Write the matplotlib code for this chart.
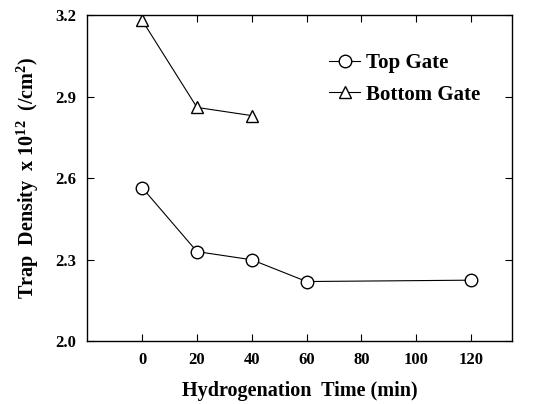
import matplotlib.pyplot as plt

# hydrogenation time (min) vs trap density (x1e12 /cm2)
top_time = [0, 20, 40, 60, 120]
top_density = [2.565, 2.33, 2.30, 2.22, 2.225]
bottom_time = [0, 20, 40]
bottom_density = [3.18, 2.86, 2.83]

plt.rcParams['font.family'] = ['Liberation Serif', 'DejaVu Serif']
plt.rcParams['font.weight'] = 'bold'
plt.rcParams['mathtext.fontset'] = 'custom'
plt.rcParams['mathtext.rm'] = 'Liberation Serif:bold'
plt.rcParams['mathtext.it'] = 'Liberation Serif:bold'

fig, ax = plt.subplots(figsize=(5.46, 4.04), dpi=100)
fig.subplots_adjust(left=0.16, right=0.938, top=0.963, bottom=0.155)

ax.plot(top_time, top_density, color='black', lw=0.8, marker='o', ms=9,
        mfc='white', mec='black', mew=1.0, label='Top Gate')
ax.plot(bottom_time, bottom_density, color='black', lw=0.8, marker='^', ms=9,
        mfc='white', mec='black', mew=1.0, label='Bottom Gate')

ax.set_xlim(-20, 135)
ax.set_ylim(2.0, 3.2)
ax.set_xticks([0, 20, 40, 60, 80, 100, 120])
ax.set_yticks([2.0, 2.3, 2.6, 2.9, 3.2])
ax.tick_params(direction='in', top=True, right=True, length=5, width=0.8,
               labelsize=12, pad=8)
for lab in ax.get_xticklabels() + ax.get_yticklabels():
    lab.set_fontweight('bold')
for s in ax.spines.values():
    s.set_linewidth(1.0)

ax.set_xlabel('Hydrogenation  Time (min)', fontsize=14.5, fontweight='bold', labelpad=9)
ax.set_ylabel(r'Trap  Density  x 10$^{12}$  (/cm$^{2}$)', fontsize=14.5,
              fontweight='bold', labelpad=10)

ax.legend(loc='upper right', bbox_to_anchor=(0.97, 0.94), frameon=False,
          handlelength=1.5, handletextpad=0.3, labelspacing=0.55,
          prop={'weight': 'bold', 'size': 15})

fig.savefig('out.png', dpi=100)
